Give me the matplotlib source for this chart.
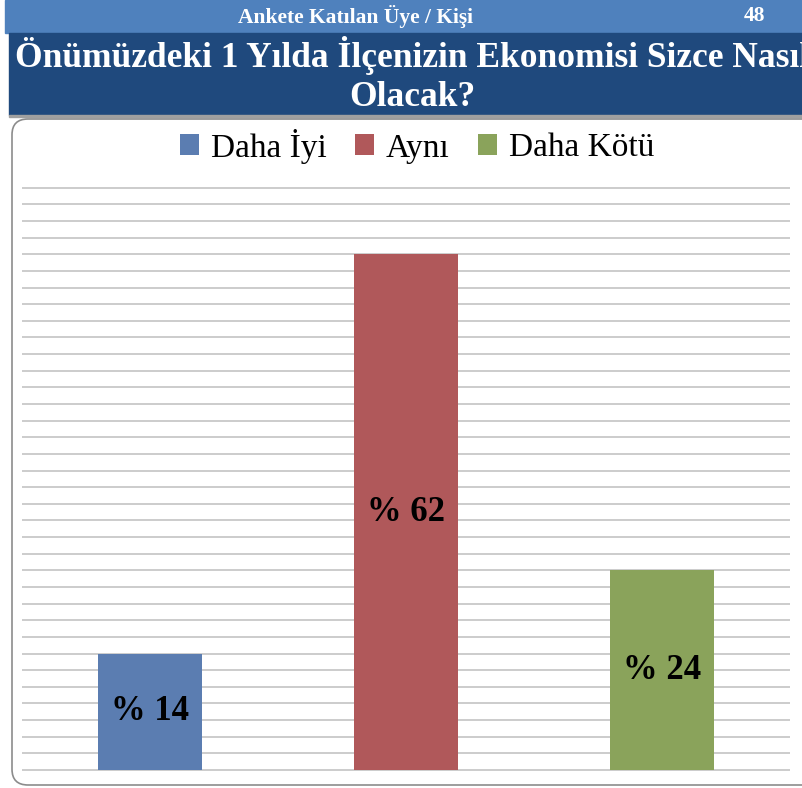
import matplotlib
matplotlib.use('Agg')
import matplotlib.pyplot as plt
from matplotlib.patches import Rectangle, FancyBboxPatch, Patch

plt.rcParams['font.family'] = ['Liberation Serif', 'DejaVu Serif']

# veriler
kategoriler = ['Daha İyi', 'Aynı', 'Daha Kötü']
yuzdeler = [14, 62, 24]
etiketler = ['% 14', '% 62', '% 24']
renkler = ['#5b7db1', '#b0585a', '#8aa35b']

baslik = 'Önümüzdeki 1 Yılda İlçenizin Ekonomisi Sizce Nasıl\nOlacak?'
ust_yazi = 'Ankete Katılan Üye / Kişi'
kisi_sayisi = '48'

W, H = 802, 788
fig = plt.figure(figsize=(W / 100, H / 100), dpi=100)

def fx(px):
    return px / W

def fy(py):
    return 1 - py / H

# ust bantlar
fig.patches.append(Rectangle((fx(5), fy(33)), fx(802), 33 / H, transform=fig.transFigure,
                             color='#4f81bd', zorder=-2))
fig.patches.append(Rectangle((fx(9), fy(115)), fx(802), 82 / H, transform=fig.transFigure,
                             color='#1f497d', zorder=-2))
fig.patches.append(Rectangle((fx(9), fy(117)), fx(802), 2 / H, transform=fig.transFigure,
                             color='#a0a0a0', zorder=-2))
fig.text(fx(355), fy(16), ust_yazi, color='white', fontsize=15.5, fontweight='bold',
         ha='center', va='center')
fig.text(fx(754), fy(16), kisi_sayisi, color='white', fontsize=15.5, fontweight='bold',
         ha='center', va='center')
fig.text(fx(412), fy(75), baslik, color='white', fontsize=25.5, fontweight='bold',
         ha='center', va='center', linespacing=1.25)

# beyaz kutu
fig.patches.append(FancyBboxPatch((fx(12), fy(785)), fx(820), (785 - 119) / H,
                                  boxstyle='round,pad=0,rounding_size=0.02',
                                  transform=fig.transFigure, facecolor='white',
                                  edgecolor='#8c8c8c', linewidth=1.2, zorder=-1))

ax = fig.add_axes([fx(22), 18 / H, fx(790) - fx(22), (770 - 187.7) / H])
ax.set_facecolor('none')
ax.set_xlim(-0.5, 2.5)
ax.set_ylim(0, 70)
ax.hlines(range(0, 71, 2), -0.5, 2.5, color='#c8c8c8', linewidth=1.3, clip_on=False, zorder=1)

x = range(len(kategoriler))
ax.bar(x, yuzdeler, width=0.41, color=renkler, zorder=2)
for i, v in enumerate(yuzdeler):
    ax.text(i, v / 2, etiketler[i], ha='center', va='center', fontsize=25,
            fontweight='bold', color='black', zorder=3)

for s in ax.spines.values():
    s.set_visible(False)
ax.set_xticks([])
ax.set_yticks([])

handles = [Patch(facecolor=c, edgecolor='none') for c in renkler]
fig.legend(handles, kategoriler, loc='center', bbox_to_anchor=(fx(417), fy(146)), ncol=3,
           frameon=False, fontsize=24, handlelength=0.58, handleheight=0.58,
           handletextpad=0.35, columnspacing=0.85)

fig.savefig('out.png', dpi=100)
